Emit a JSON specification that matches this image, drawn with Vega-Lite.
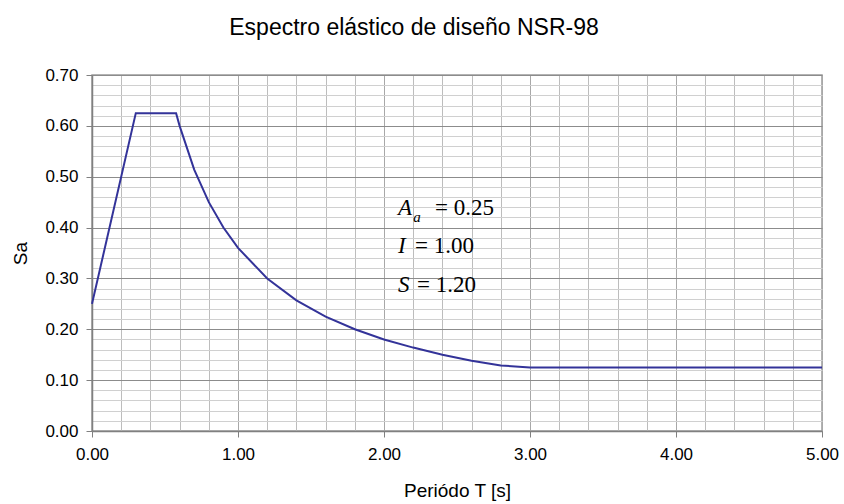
{
  "$schema": "https://vega.github.io/schema/vega-lite/v6.json",
  "autosize": {"type": "none"},
  "padding": {"left": 92, "top": 75, "right": 22, "bottom": 73},
  "width": 730,
  "height": 356,
  "background": "white",
  "config": {"view": {"stroke": "#9a9a9a", "strokeWidth": 1.5}, "font": "Liberation Sans"},
  "title": {"text": "Espectro elástico de diseño NSR-98", "fontSize": 23, "fontWeight": "normal", "font": "Liberation Sans", "color": "#000", "offset": 26, "dx": -43},
  "datasets": {
    "spec": [
      {"T": 0.0, "Sa": 0.25},
      {"T": 0.3, "Sa": 0.625},
      {"T": 0.576, "Sa": 0.625},
      {"T": 0.6, "Sa": 0.6},
      {"T": 0.7, "Sa": 0.514},
      {"T": 0.8, "Sa": 0.45},
      {"T": 0.9, "Sa": 0.4},
      {"T": 1.0, "Sa": 0.36},
      {"T": 1.2, "Sa": 0.3},
      {"T": 1.4, "Sa": 0.257},
      {"T": 1.6, "Sa": 0.225},
      {"T": 1.8, "Sa": 0.2},
      {"T": 2.0, "Sa": 0.18},
      {"T": 2.2, "Sa": 0.164},
      {"T": 2.4, "Sa": 0.15},
      {"T": 2.6, "Sa": 0.138},
      {"T": 2.8, "Sa": 0.129},
      {"T": 3.0, "Sa": 0.125},
      {"T": 5.0, "Sa": 0.125}
    ],
    "ann": [
      {"T": 2.096, "Sa": 0.4247, "txt": "A", "kind": "sym"},
      {"T": 2.2, "Sa": 0.411, "txt": "a", "kind": "sub"},
      {"T": 2.349, "Sa": 0.4247, "txt": "= 0.25", "kind": "val"},
      {"T": 2.096, "Sa": 0.35, "txt": "I", "kind": "sym"},
      {"T": 2.212, "Sa": 0.35, "txt": "= 1.00", "kind": "val"},
      {"T": 2.096, "Sa": 0.273, "txt": "S", "kind": "sym"},
      {"T": 2.226, "Sa": 0.273, "txt": "= 1.20", "kind": "val"}
    ]
  },
  "layer": [
    {
      "data": {"name": "spec"},
      "mark": {"type": "line", "color": "#333399", "strokeWidth": 2},
      "encoding": {
        "x": {
          "field": "T", "type": "quantitative",
          "scale": {"domain": [0, 5], "nice": false, "zero": false},
          "axis": {
            "title": "Periódo T [s]",
            "values": [0, 0.2, 0.4, 0.6, 0.8, 1, 1.2, 1.4, 1.6, 1.8, 2, 2.2, 2.4, 2.6, 2.8, 3, 3.2, 3.4, 3.6, 3.8, 4, 4.2, 4.4, 4.6, 4.8, 5],
            "tickCount": 200,
            "labelExpr": "abs(datum.value - round(datum.value)) < 1e-6 ? format(datum.value, '.2f') : ''",
            "labelOverlap": false,
            "labelFlush": false,
            "labelFontSize": 17,
            "labelColor": "#000",
            "labelFont": "Liberation Sans",
            "labelPadding": 9,
            "titleFontSize": 19,
            "titleFont": "Liberation Sans",
            "titleFontWeight": "normal",
            "titleColor": "#000",
            "titlePadding": 19,
            "grid": true,
            "gridColor": {"condition": {"test": "abs(datum.value - round(datum.value)) < 1e-6", "value": "#a8a8a8"}, "value": "#bdbdbd"},
            "gridWidth": 1,
            "ticks": true,
            "tickSize": 6,
            "tickColor": "#808080",
            "tickOpacity": {"condition": {"test": "abs(datum.value - round(datum.value)) < 1e-6", "value": 1}, "value": 0},
            "domainColor": "#808080",
            "domainWidth": 1.5
          }
        },
        "y": {
          "field": "Sa", "type": "quantitative",
          "scale": {"domain": [0, 0.7], "nice": false},
          "axis": {
            "title": "Sa",
            "values": [0, 0.02, 0.04, 0.06, 0.08, 0.1, 0.12, 0.14, 0.16, 0.18, 0.2, 0.22, 0.24, 0.26, 0.28, 0.3, 0.32, 0.34, 0.36, 0.38, 0.4, 0.42, 0.44, 0.46, 0.48, 0.5, 0.52, 0.54, 0.56, 0.58, 0.6, 0.62, 0.64, 0.66, 0.68, 0.7],
            "tickCount": 200,
            "labelExpr": "abs(datum.value * 10 - round(datum.value * 10)) < 1e-6 ? format(datum.value, '.2f') : ''",
            "labelOverlap": false,
            "labelFlush": false,
            "labelFontSize": 17,
            "labelColor": "#000",
            "labelFont": "Liberation Sans",
            "labelPadding": 8,
            "titleFontSize": 19,
            "titleFont": "Liberation Sans",
            "titleFontWeight": "normal",
            "titleColor": "#000",
            "titlePadding": 14,
            "grid": true,
            "gridColor": {"condition": {"test": "abs(datum.value * 10 - round(datum.value * 10)) < 1e-6", "value": "#8c8c8c"}, "value": "#d0d0d0"},
            "gridWidth": 1,
            "ticks": true,
            "tickSize": 6,
            "tickColor": "#808080",
            "tickOpacity": {"condition": {"test": "abs(datum.value * 10 - round(datum.value * 10)) < 1e-6", "value": 1}, "value": 0},
            "domainColor": "#808080",
            "domainWidth": 1.5
          }
        }
      }
    },
    {
      "data": {"name": "ann"},
      "transform": [{"filter": "datum.kind === 'sym'"}],
      "mark": {"type": "text", "font": "Liberation Serif", "fontStyle": "italic", "fontSize": 23, "align": "left", "baseline": "alphabetic", "color": "#000"},
      "encoding": {
        "x": {"field": "T", "type": "quantitative"},
        "y": {"field": "Sa", "type": "quantitative"},
        "text": {"field": "txt"}
      }
    },
    {
      "data": {"name": "ann"},
      "transform": [{"filter": "datum.kind === 'sub'"}],
      "mark": {"type": "text", "font": "Liberation Serif", "fontStyle": "italic", "fontSize": 15, "align": "left", "baseline": "alphabetic", "color": "#000"},
      "encoding": {
        "x": {"field": "T", "type": "quantitative"},
        "y": {"field": "Sa", "type": "quantitative"},
        "text": {"field": "txt"}
      }
    },
    {
      "data": {"name": "ann"},
      "transform": [{"filter": "datum.kind === 'val'"}],
      "mark": {"type": "text", "font": "Liberation Serif", "fontSize": 23, "align": "left", "baseline": "alphabetic", "color": "#000"},
      "encoding": {
        "x": {"field": "T", "type": "quantitative"},
        "y": {"field": "Sa", "type": "quantitative"},
        "text": {"field": "txt"}
      }
    }
  ]
}
